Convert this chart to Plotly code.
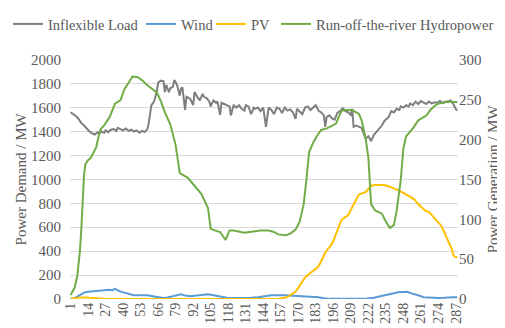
import plotly.graph_objects as go

# ---- data ----
load_x = [1,3,5,7,9,11,13,15,17,19,21,22,24,26,27,29,31,33,35,36,38,40,42,44,46,48,50,52,54,56,58,59,61,63,65,66,68,70,71,72,74,75,77,78,80,82,83,84,86,87,89,90,92,93,95,97,99,100,102,104,105,107,109,110,112,113,115,117,119,120,122,124,126,128,130,131,133,135,137,138,140,142,144,146,148,150,152,154,156,158,160,162,164,166,168,169,171,173,175,177,179,181,183,185,187,189,190,191,193,195,197,199,201,203,205,207,209,210,211,213,215,217,218,220,222,224,226,228,230,232,234,236,237,239,241,243,245,246,248,250,252,253,255,257,259,261,263,265,267,269,271,273,275,277,279,281,283,285,287,288]
load_y = [1560,1545,1530,1505,1470,1450,1425,1400,1385,1375,1395,1380,1400,1390,1410,1395,1415,1420,1405,1430,1420,1410,1425,1405,1415,1400,1410,1390,1405,1395,1420,1470,1620,1650,1735,1810,1825,1820,1730,1790,1730,1760,1775,1830,1790,1700,1760,1770,1580,1690,1680,1670,1620,1730,1690,1660,1715,1690,1680,1650,1610,1660,1640,1650,1540,1640,1630,1620,1610,1535,1620,1600,1620,1590,1575,1620,1610,1545,1600,1590,1600,1570,1600,1440,1600,1580,1545,1600,1590,1555,1600,1575,1585,1560,1505,1590,1570,1545,1600,1610,1580,1600,1620,1575,1560,1535,1440,1520,1535,1510,1500,1555,1570,1595,1570,1560,1540,1590,1440,1450,1440,1430,1400,1340,1360,1320,1370,1395,1420,1450,1490,1505,1520,1570,1560,1590,1580,1610,1600,1620,1610,1635,1620,1650,1630,1655,1640,1630,1650,1635,1645,1640,1655,1640,1650,1645,1660,1630,1585,1575]

wind_x = [1,4,7,11,14,16,19,22,24,27,30,32,34,36,38,41,44,48,52,55,58,62,66,70,73,76,80,83,86,90,93,97,100,103,106,110,114,118,124,130,135,140,145,150,160,170,175,180,185,189,192,200,210,220,226,232,236,240,244,248,251,254,257,260,263,268,274,278,282,285,288]
wind_y = [0.5,1,4,8,9,9.3,9.5,10.5,10,11,11.7,11,12.8,11,9.3,8,6.5,4.7,4.7,4.7,4.7,3.5,2,1.2,2,3,5,5.8,4.5,3.5,4,5,5.5,5.8,5,3.5,2,1.2,1.2,1.2,1.5,2.3,3.5,4.7,4.7,4,3.5,3,2.3,1,0.3,0.3,0.3,0.3,1.5,3.5,5,7,8.5,9.3,9,7,5.8,4,2.3,1.5,1.2,1.5,2.3,2.3,2.3]

pv_x = [1,3,5,8,12,16,20,24,28,155,158,160,163,166,168,170,172,175,178,181,184,186,188,190,192,194,196,198,200,202,205,207,209,211,213,215,218,220,222,224,227,230,233,236,239,242,245,248,250,253,256,259,262,264,267,270,272,274,276,278,280,282,284,285,286,288]
pv_y = [0,0.5,1.5,2,2,1.5,1,0.5,0,0,0.5,1.5,3.5,7,9.3,14,19.8,27,31.5,35,39,44,52,58,63,66.5,73,82,91,99,103,105,112,119,126,131,133,134,138,142,143,143,143,142,140,138,136,133,131,128,125,119,114,111,109,103,99,96,92,85,78,71,62,55,53,52]

hydro_x = [1,4,6,7,8,9,10,11,12,14,16,18,20,22,23,26,30,34,38,41,44,47,51,55,58,62,65,68,71,75,79,82,85,88,93,98,103,105,108,112,116,119,122,125,130,134,138,142,148,152,155,161,164,168,171,174,176,178,181,184,187,191,195,198,200,202,205,208,211,215,217,220,222,224,227,230,232,235,238,241,243,246,248,250,255,259,262,265,268,271,274,278,281,284,288]
hydro_y = [5,14,29,45,61,88,134,155,169,174,177,183,190,205,212,218,228,245,249,263,271,279,278,273,268,263,259,248,234,219,193,158,155,152,142,132,114,88,86,84,74,86,86,85,83,84,85,86,86,84,81,80,82,87,97,119,149,184,196,205,212,214,217,220,228,236,237,237,236,232,224,201,177,119,111,109,107,97,89,93,111,149,189,204,214,224,227,230,237,242,245,246,248,247,247]

tick_vals = [1,14,27,40,53,66,79,92,105,118,131,144,157,170,183,196,209,222,235,248,261,274,287]

FONT = "'Times New Roman', 'Liberation Serif', serif"
TXT = "#595959"
GRID = "#D9D9D9"

fig = go.Figure()
fig.add_trace(go.Scatter(x=load_x, y=load_y, name="Inflexible Load", mode="lines",
                         line=dict(color="#7F7F7F", width=2), legend="legend"))
fig.add_trace(go.Scatter(x=wind_x, y=wind_y, name="Wind", mode="lines", yaxis="y2",
                         line=dict(color="#5B9BD5", width=2), legend="legend2"))
fig.add_trace(go.Scatter(x=pv_x, y=pv_y, name="PV", mode="lines", yaxis="y2",
                         line=dict(color="#FFC000", width=2), legend="legend3"))
fig.add_trace(go.Scatter(x=hydro_x, y=hydro_y, name="Run-off-the-river Hydropower", mode="lines", yaxis="y2",
                         line=dict(color="#70AD47", width=2), legend="legend4"))


def leg(xpx):
    return dict(orientation="h", xref="container", yref="container",
                x=xpx / 505, y=1.0, xanchor="left", yanchor="top",
                font=dict(family=FONT, size=14.5, color=TXT),
                itemwidth=30, bgcolor="rgba(0,0,0,0)", borderwidth=0)


fig.update_layout(
    width=505, height=328,
    margin=dict(l=62, r=55, t=38, b=33),
    paper_bgcolor="white", plot_bgcolor="white",
    font=dict(family=FONT, size=14, color=TXT),
    showlegend=True,
    legend=leg(0), legend2=leg(133), legend3=leg(203), legend4=leg(268),
    xaxis=dict(range=[0.6, 288.5], tickmode="array", tickvals=tick_vals,
               ticktext=[str(v) for v in tick_vals], tickangle=-90,
               showgrid=False, zeroline=False, showline=False,
               tickfont=dict(family=FONT, size=14, color=TXT)),
    yaxis=dict(range=[0, 2000], dtick=200, showgrid=True, gridcolor=GRID, gridwidth=1,
               zeroline=False, showline=False, ticklabelstandoff=8,
               title=dict(text="Power Demand / MW", font=dict(family=FONT, size=15, color=TXT), standoff=0),
               tickfont=dict(family=FONT, size=15, color=TXT)),
    yaxis2=dict(range=[0, 300], dtick=50, overlaying="y", side="right", showgrid=False,
                zeroline=False, showline=False,
                title=dict(text="Power Generation / MW", font=dict(family=FONT, size=15, color=TXT), standoff=6),
                tickfont=dict(family=FONT, size=15, color=TXT)),
)

fig.write_html("out.html")
